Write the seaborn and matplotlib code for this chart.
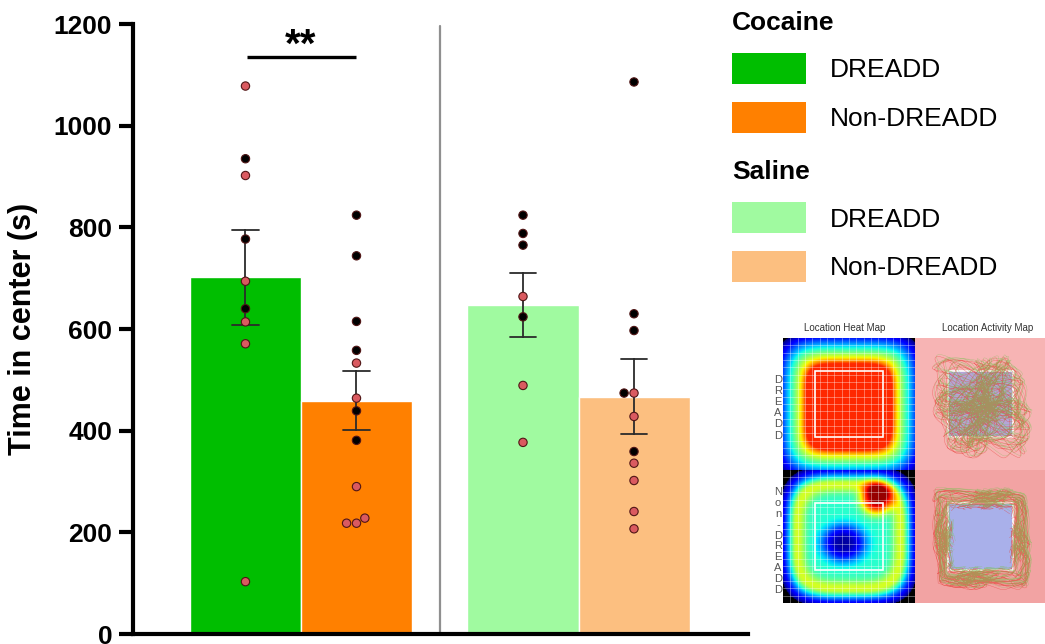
import numpy as np
import pandas as pd
import matplotlib
matplotlib.use("Agg")
import matplotlib.pyplot as plt
import seaborn as sns
from matplotlib.patches import Patch, Rectangle

# bar groups, positions on the x axis and fill colours
groups = ["Cocaine DREADD", "Cocaine Non-DREADD", "Saline DREADD", "Saline Non-DREADD"]
bar_pos = [0, 1, 2.5, 3.5]
bar_colors = ["#00be00", "#ff8000", "#a0faa0", "#fcbf80"]

# individual animals (time in center, s) and dot colour
coc_dreadd = [1078, 935, 902, 777, 694, 640, 614, 571, 103]
coc_dreadd_dot = ["red", "black", "red", "black", "red", "black", "red", "red", "red"]
coc_non = [824, 744, 615, 558, 533, 464, 439, 381, 290, 228, 218, 218]
coc_non_dot = ["black", "black", "black", "black", "red", "red", "black", "black",
               "red", "red", "red", "red"]
sal_dreadd = [824, 788, 765, 664, 624, 489, 377]
sal_dreadd_dot = ["black", "black", "black", "red", "black", "red", "red"]
sal_non = [1086, 630, 597, 474, 474, 428, 359, 336, 302, 241, 207]
sal_non_dot = ["black", "black", "black", "black", "red", "red", "black", "red",
               "red", "red", "red"]

y_ticks = [0, 200, 400, 600, 800, 1000, 1200]
legend_labels = ["DREADD", "Non-DREADD"]

rows = []
for g, p, vals, dots in zip(groups, bar_pos,
                            [coc_dreadd, coc_non, sal_dreadd, sal_non],
                            [coc_dreadd_dot, coc_non_dot, sal_dreadd_dot, sal_non_dot]):
    for v, d in zip(vals, dots):
        rows.append({"group": g, "pos": p, "time": v, "dot": d})
df = pd.DataFrame(rows)

sns.set_style("ticks")
plt.rcParams["font.family"] = ["Liberation Sans", "DejaVu Sans"]
plt.rcParams.update({"text.color": "black", "axes.labelcolor": "black",
                     "xtick.color": "black", "ytick.color": "black"})

fig = plt.figure(figsize=(10.45, 6.44), dpi=100)
ax = fig.add_axes([0.1273, 0.0155, 0.5885, 0.9472])

sns.barplot(data=df, x="pos", y="time", hue="group", hue_order=groups,
            palette=bar_colors, native_scale=True, width=1, dodge=False,
            saturation=1, errorbar="se", capsize=0.24,
            err_kws={"color": "#2b2b2b", "linewidth": 1.3}, legend=False, ax=ax)
sns.swarmplot(data=df, x="pos", y="time", hue="dot",
              palette={"black": "black", "red": "#da5a60"}, native_scale=True,
              size=6, linewidth=0.8, edgecolor="#501515", legend=False, ax=ax)

ax.set_xlim(-1.013, 4.527)
ax.set_ylim(0, 1200)
ax.set_xticks([])
ax.set_xlabel("")
ax.set_yticks(y_ticks)
ax.set_ylabel("Time in center (s)", fontsize=22, fontweight="bold", labelpad=11)
ax.tick_params(axis="y", length=10, width=3, labelsize=19, pad=5, color="black")
for t in ax.get_yticklabels():
    t.set_fontweight("bold")
sns.despine(ax=ax)
for s in ["left", "bottom"]:
    ax.spines[s].set_linewidth(3)
    ax.spines[s].set_color("black")

# divider between cocaine and saline
ax.plot([1.75, 1.75], [0, 1196], color="#8f8f8f", lw=1.6, zorder=0)

# significance bracket
ax.plot([0.01, 1.0], [1135, 1135], color="black", lw=2.4, solid_capstyle="butt")
ax.text(0.5, 1136, "**", ha="center", va="baseline", fontsize=29, fontweight="bold")

leg_kw = dict(loc="upper left", frameon=False, fontsize=19, alignment="left",
              title_fontproperties={"weight": "bold", "size": 19},
              handlelength=2.8, handleheight=1.43, handletextpad=0.9,
              labelspacing=0.68, borderpad=0, borderaxespad=0)
h1 = [Patch(facecolor=c, edgecolor="none") for c in bar_colors[:2]]
h2 = [Patch(facecolor=c, edgecolor="none") for c in bar_colors[2:]]
leg1 = fig.legend(h1, legend_labels, title="Cocaine", bbox_to_anchor=(0.7005, 0.983), **leg_kw)
leg2 = fig.legend(h2, legend_labels, title="Saline", bbox_to_anchor=(0.7005, 0.751), **leg_kw)

# inset: location heat maps and activity maps
g = np.linspace(-1, 1, 140)
X, Y = np.meshgrid(g, g)
r_top = (np.abs(X) ** 5 + np.abs(Y - 0.05) ** 5) ** 0.2
heat_top = 0.87 - 0.87 * np.clip((r_top - 0.66) / 0.5, 0, 1) ** 0.8
r_bot = (np.abs(X) ** 4 + np.abs(Y) ** 4) ** 0.25
base = 0.42 * np.clip((1.08 - r_bot) / 0.25, 0, 1)
ring = 0.2 * np.exp(-((r_bot - 0.78) / 0.12) ** 2)
hole = 0.36 * np.exp(-(((X + 0.08) / 0.34) ** 2 + ((Y - 0.1) / 0.28) ** 2) ** 1.5)
hot = 0.55 * np.exp(-(((X - 0.42) ** 2 + (Y + 0.58) ** 2) / 0.06) ** 1.5)
heat_bot = np.clip(base + ring - hole + hot, 0, 0.98)

cmap = plt.get_cmap("jet").copy()
cmap.set_under("black")

panel_w = [0.1263, 0.1244]
panel_l = [0.7493, 0.8756]
panel_b = [0.2702, 0.0637]
panel_h = [0.205, 0.2065]

t = np.linspace(0, 60 * np.pi, 3500)
dx = 0.34 * np.sin(2.03 * t) * np.cos(0.137 * t) + 0.04 * np.sin(7.1 * t)
dy = 0.35 * np.sin(1.71 * t + 0.4) * np.cos(0.093 * t) + 0.04 * np.cos(6.3 * t)
for row, heat in enumerate([heat_top, heat_bot]):
    hax = fig.add_axes([panel_l[0], panel_b[row], panel_w[0], panel_h[row]])
    hax.imshow(heat, cmap=cmap, vmin=0.03, vmax=1, extent=[0, 1, 1, 0],
               interpolation="bilinear", aspect="auto")
    for k in np.linspace(0, 1, 19)[1:-1]:
        hax.axvline(k, color="white", lw=0.5, alpha=0.5)
        hax.axhline(k, color="white", lw=0.5, alpha=0.5)
    hax.add_patch(Rectangle((0.245, 0.25), 0.51, 0.5, fill=False, ec="white", lw=1.2))
    hax.set_xlim(0, 1)
    hax.set_ylim(1, 0)
    hax.axis("off")

    aax = fig.add_axes([panel_l[1], panel_b[row], panel_w[1], panel_h[row]])
    aax.set_facecolor(["#f7b4b4", "#f2a3a3"][row])
    if row == 0:
        aax.add_patch(Rectangle((0.25, 0.25), 0.5, 0.5, fc="#b5a5d8", ec="none"))
        tx, ty = 0.51 + dx, 0.52 + dy
    else:
        aax.add_patch(Rectangle((0.25, 0.25), 0.5, 0.5, fc="#a9b0ea", ec="none"))
        s = np.maximum(np.abs(dx), np.abs(dy)) + 1e-6
        scale = (0.21 + 0.17 * s / s.max()) / s
        tx, ty = 0.51 + dx * scale, 0.52 + dy * scale
        # break the path where it jumps across the arena
        jump = np.hypot(np.diff(tx), np.diff(ty)) > 0.06
        tx = np.insert(tx, np.where(jump)[0] + 1, np.nan)
        ty = np.insert(ty, np.where(jump)[0] + 1, np.nan)
    aax.plot(tx, ty, color="#e5392f", lw=0.3, alpha=0.6)
    aax.plot(tx[::-1] + 0.012, ty[::-1] - 0.015, color="#78c050", lw=0.3, alpha=0.5)
    aax.add_patch(Rectangle((0.25, 0.25), 0.5, 0.5, fill=False, ec="white", lw=1.2))
    aax.set_xlim(0, 1)
    aax.set_ylim(1, 0)
    aax.set_xticks([])
    aax.set_yticks([])
    for sp in aax.spines.values():
        sp.set_visible(False)

fig.text(0.8086, 0.4907, "Location Heat Map", fontsize=7, color="#333333",
         ha="center", va="center")
fig.text(0.9455, 0.4907, "Location Activity Map", fontsize=7, color="#333333",
         ha="center", va="center")
fig.text(0.7445, 0.3672, "\n".join("DREADD"), fontsize=8, color="#555555",
         ha="center", va="center", linespacing=1.15)
fig.text(0.7445, 0.16, "\n".join("Non-DREADD"), fontsize=8, color="#555555",
         ha="center", va="center", linespacing=1.1)

fig.savefig("out.png", dpi=100)
